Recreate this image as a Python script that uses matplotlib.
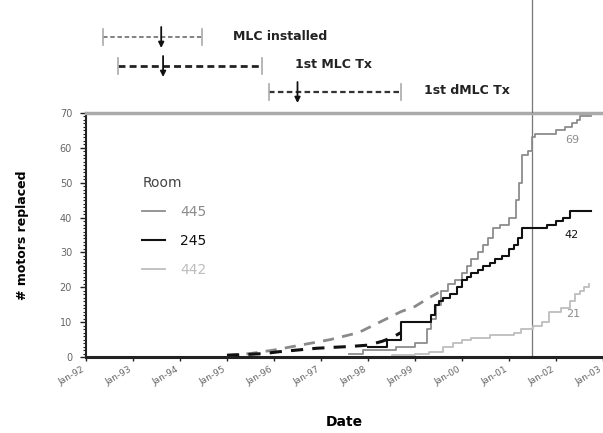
import matplotlib
matplotlib.use("Agg")
import matplotlib.pyplot as plt
import numpy as np

# ---------------- data ----------------
x445 = [1997.6, 1997.9, 1998.3, 1998.6, 1999.0, 1999.25, 1999.35, 1999.45, 1999.55, 1999.7,
        1999.85, 2000.0, 2000.1, 2000.2, 2000.35, 2000.45, 2000.55, 2000.65, 2000.8, 2001.0,
        2001.15, 2001.22, 2001.28, 2001.4, 2001.48, 2001.55, 2001.8, 2002.0, 2002.2, 2002.35,
        2002.45, 2002.5, 2002.75]
y445 = [1, 2, 2, 3, 4, 8, 11, 15, 19, 21, 22, 24, 26, 28, 30, 32, 34, 37, 38, 40,
        45, 50, 58, 59, 63, 64, 64, 65, 66, 67, 68, 69, 69]

x445_est = [1995.0, 1995.5, 1996.0, 1996.4, 1996.8, 1997.2, 1997.5, 1997.8, 1998.1, 1998.4,
            1998.7, 1999.0, 1999.3, 1999.5]
y445_est = [0.5, 1, 2, 3, 4, 5, 6, 7, 9, 11, 13, 14.5, 17, 18.5]

x245 = [1998.0, 1998.4, 1998.7, 1999.35, 1999.42, 1999.5, 1999.6, 1999.75, 1999.9, 2000.0,
        2000.1, 2000.2, 2000.35, 2000.45, 2000.6, 2000.7, 2000.85, 2001.0, 2001.1, 2001.2,
        2001.28, 2001.6, 2001.8, 2002.0, 2002.15, 2002.3, 2002.75]
y245 = [3, 5, 10, 12, 15, 16, 17, 18, 20, 22, 23, 24, 25, 26, 27, 28, 29, 31, 32, 34,
        37, 37, 38, 39, 40, 42, 42]

x245_est = [1995.0, 1995.4, 1995.8, 1996.1, 1996.5, 1996.9, 1997.3, 1997.6, 1998.0, 1998.3,
            1998.5, 1998.7]
y245_est = [0.5, 0.7, 1, 1.5, 2, 2.5, 2.8, 3, 3.4, 4.5, 5.5, 7]

x442 = [1995.0, 1998.5, 1999.0, 1999.3, 1999.6, 1999.8, 2000.0, 2000.2, 2000.6, 2001.1,
        2001.25, 2001.5, 2001.7, 2001.85, 2002.1, 2002.3, 2002.4, 2002.5, 2002.6, 2002.7]
y442 = [0, 0.5, 1, 1.5, 3, 4, 5, 5.5, 6.3, 7, 8, 9, 10, 13, 14, 16, 18, 19, 20, 21]

rooms = ["445", "245", "442"]
final_counts = [69, 42, 21]

tick_years = list(range(1992, 2004))
tick_labels = ["Jan-%02d" % (y % 100) for y in tick_years]

events = ["MLC installed", "1st MLC Tx", "1st dMLC Tx"]
event_start = [1992.36, 1992.68, 1995.9]
event_end = [1994.47, 1995.74, 1998.7]
event_mark = [1993.6, 1993.64, 1996.5]

cutoff = 2001.49

# ---------------- figure ----------------
W, H = 603, 433
fig = plt.figure(figsize=(W / 100, H / 100), dpi=100)

left_px, right_px, bottom_px, top_px = 86, 603, 357, 113
ax = fig.add_axes([left_px / W, 1 - bottom_px / H, (right_px - left_px) / W,
                   (bottom_px - top_px) / H])

c445, c245, c442 = "#8c8c8c", "#111111", "#bdbdbd"

ax.step(x442, y442, where="post", color=c442, lw=1.3, label=rooms[2], zorder=2)
ax.step(x445, y445, where="post", color=c445, lw=1.3, label=rooms[0], zorder=3)
ax.step(x245, y245, where="post", color=c245, lw=1.5, label=rooms[1], zorder=4)
ax.plot(x445_est, y445_est, color="#8a8a8a", lw=2.0, ls=(0, (4, 3)), zorder=3)
ax.plot(x245_est, y245_est, color=c245, lw=2.2, ls=(0, (4, 3)), zorder=4)

ax.axvline(cutoff, color="#777777", lw=0.9, zorder=1)

ax.set_xlim(1992, 2003)
ax.set_ylim(0, 70)
ax.set_xticks(tick_years)
ax.set_xticklabels(tick_labels, rotation=30, ha="right", fontsize=6.5, color="#666666")
ax.set_yticks(range(0, 71, 10))
ax.set_yticks(range(0, 71, 1), minor=True)
ax.tick_params(axis="y", labelsize=7, colors="#666666", length=4, width=1, pad=6)
ax.tick_params(axis="y", which="minor", length=2, width=0.8, color="#222222")
ax.tick_params(axis="y", which="major", color="#222222")
ax.tick_params(axis="x", length=3, width=1, color="#222222", pad=3)

ax.spines["right"].set_visible(False)
ax.spines["top"].set_color("#aaaaaa")
ax.spines["top"].set_linewidth(2.5)
ax.spines["left"].set_color("#222222")
ax.spines["left"].set_linewidth(1.5)
ax.spines["bottom"].set_color("#222222")
ax.spines["bottom"].set_linewidth(2.2)

ax.set_xlabel("Date", fontsize=10, fontweight="bold", labelpad=20)
ax.set_ylabel("# motors replaced", fontsize=9, fontweight="bold", labelpad=22)

# end labels
ax.text(2002.34, 62.2, str(final_counts[0]), color=c445, fontsize=8, ha="center", va="center")
ax.text(2002.34, 35.0, str(final_counts[1]), color=c245, fontsize=8, ha="center", va="center")
ax.text(2002.36, 12.3, str(final_counts[2]), color=c445, fontsize=8, ha="center", va="center")

# legend
handles, labels = ax.get_legend_handles_labels()
order = [labels.index(r) for r in rooms]
leg = ax.legend([handles[i] for i in order], [labels[i] for i in order], title="Room",
                loc="upper left", bbox_to_anchor=(0.085, 0.795), frameon=False,
                fontsize=10, title_fontsize=10, handlelength=1.6, labelspacing=1.1,
                handletextpad=1.1)
leg._legend_box.align = "left"
for t, col in zip(leg.get_texts(), [c445, c245, c442]):
    t.set_color(col)
leg.get_title().set_color("#444444")

# ---------------- top annotation axes ----------------
axt = fig.add_axes([left_px / W, 1 - top_px / H, (right_px - left_px) / W, top_px / H],
                   sharex=ax)
axt.set_ylim(0, 113)
axt.axis("off")
axt.axvline(cutoff, color="#777777", lw=0.9)

row_y = [113 - 37, 113 - 66, 113 - 92]
line_cols = ["#777777", "#222222", "#333333"]
line_w = [1.3, 2.0, 1.6]
label_x = [1995.13, 1996.45, 1999.2]
for i in range(3):
    y = row_y[i]
    axt.plot([event_start[i], event_end[i]], [y, y], color=line_cols[i], lw=line_w[i],
             ls=(0, (2.5, 1.5)))
    for xe in (event_start[i], event_end[i]):
        axt.plot([xe, xe], [y - 8, y + 8], color="#aaaaaa", lw=1.2)
    axt.annotate("", xy=(event_mark[i], y - 11), xytext=(event_mark[i], y + 10),
                 arrowprops=dict(arrowstyle="-|>", color="#111111", lw=1.3,
                                 mutation_scale=8, shrinkA=0, shrinkB=0))
    axt.text(label_x[i], y + 1, events[i], fontsize=9, fontweight="bold",
             color="#222222", ha="left", va="center")

fig.savefig("out.png", dpi=100)
